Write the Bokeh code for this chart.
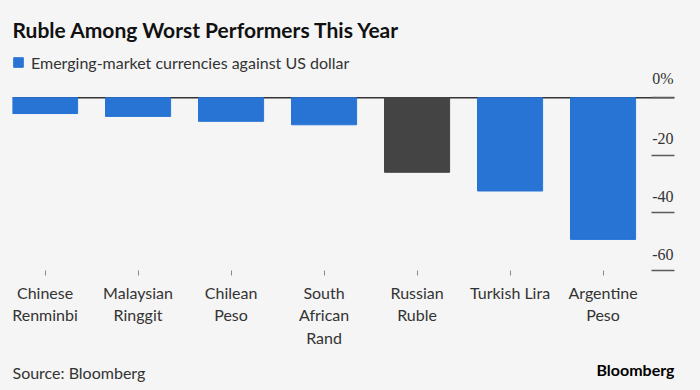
from bokeh.plotting import figure
from bokeh.layouts import column
from bokeh.models import (Range1d, FixedTicker, Span, Legend, LegendItem,
                          Label, LabelSet, ColumnDataSource)
from bokeh.embed import file_html
from bokeh.resources import INLINE

# ---- data ----
currencies = ["Chinese\nRenminbi", "Malaysian\nRinggit", "Chilean\nPeso",
              "South\nAfrican\nRand", "Russian\nRuble", "Turkish Lira",
              "Argentine\nPeso"]
changes = [-5.5, -6.5, -8.2, -9.4, -25.9, -32.4, -49.2]
highlight = [False, False, False, False, True, False, False]
y_ticks = [0, -20, -40, -60]
y_tick_labels = ["0%", "-20", "-40", "-60"]

title_text = "Ruble Among Worst Performers This Year"
legend_text = "Emerging-market currencies against US dollar"
source_text = "Source: Bloomberg"
logo_text = "Bloomberg"

# ---- style ----
BG = "#f5f5f5"
BLUE = "#2874d5"
DARK = "#444444"
FONT = "Lato"

W = 700
MAIN_H, FOOT_H = 350, 40
LEFT, RIGHT = 12, 26
FRAME_W = W - LEFT - RIGHT          # 662
FRAME_H = 273                       # frame runs from the top of the page to the -60 line
PX_PER_UNIT = 2.912
PITCH = 93
BAR_W = 0.7
x_start = -BAR_W / 2
x_end = x_start + FRAME_W / PITCH
y_start = -60
y_end = y_start + FRAME_H / PX_PER_UNIT

xs = list(range(len(currencies)))
colors = [DARK if h else BLUE for h in highlight]
source = ColumnDataSource(dict(x=xs, bottom=changes, color=colors))

p = figure(width=W, height=MAIN_H, output_backend="svg", toolbar_location=None,
           x_range=Range1d(x_start, x_end), y_range=Range1d(y_start, y_end),
           y_axis_location="right", min_border_left=LEFT, min_border_right=RIGHT,
           min_border_top=0, min_border_bottom=MAIN_H - FRAME_H)
p.background_fill_color = BG
p.border_fill_color = BG
p.outline_line_color = None
p.grid.visible = False

p.add_layout(Span(location=0, dimension="width", line_color="#333333",
                  line_width=1.5, level="underlay"))

bars = p.vbar(x="x", top=0, bottom="bottom", width=BAR_W, fill_color="color",
              line_color="color", source=source)

# x axis
xa = p.xaxis[0]
xa.ticker = FixedTicker(ticks=xs)
xa.major_label_overrides = {i: c for i, c in zip(xs, currencies)}
xa.axis_line_color = None
xa.major_tick_out = 5
xa.major_tick_in = 0
xa.major_tick_line_color = "#888888"
xa.minor_tick_line_color = None
xa.major_label_standoff = 7
xa.major_label_text_font = FONT
xa.major_label_text_font_size = "16px"
xa.major_label_text_color = "#333333"

# y axis: short tick lines only; the labels sit above them
ya = p.yaxis[0]
ya.ticker = FixedTicker(ticks=y_ticks)
ya.major_label_overrides = {t: "" for t in y_ticks}
ya.axis_line_color = None
ya.major_tick_in = 23
ya.major_tick_out = 0
ya.major_tick_line_color = "#5a5a5a"
ya.major_tick_line_width = 1.5
ya.minor_tick_line_color = None

lab_src = ColumnDataSource(dict(x=[x_end] * len(y_ticks), y=y_ticks, text=y_tick_labels))
p.add_layout(LabelSet(x="x", y="y", text="text", source=lab_src, x_offset=-1,
                      y_offset=11, text_align="right", text_baseline="bottom",
                      text_font=FONT, text_font_size="16px", text_color="#333333"))

# legend and title (inside the tall frame, above the bars)
legend = Legend(items=[LegendItem(label=legend_text, renderers=[bars], index=0)],
                location=(0, FRAME_H - 78), orientation="horizontal", margin=0,
                padding=0, border_line_color=None, background_fill_alpha=0,
                glyph_width=12, glyph_height=12, label_standoff=7, label_height=26,
                label_text_font=FONT, label_text_font_size="16px",
                label_text_color="#333333")
p.add_layout(legend)

p.add_layout(Label(x=0, y=FRAME_H - 32, x_units="screen", y_units="screen",
                   text=title_text, text_align="left", text_baseline="middle",
                   text_font=FONT, text_font_size="21px", text_font_style="bold",
                   text_color="#111111"))

# footer (its frame is aligned with the main frame: left 12, right 674)
f = figure(width=W, height=FOOT_H, output_backend="svg", toolbar_location=None,
           x_range=Range1d(0, 1), y_range=Range1d(0, 1),
           x_axis_type=None, y_axis_type=None, min_border_left=LEFT,
           min_border_right=RIGHT, min_border_top=0, min_border_bottom=0)
f.background_fill_color = BG
f.border_fill_color = BG
f.outline_line_color = None
f.grid.visible = False
f.add_layout(Label(x=0, y=FOOT_H - 22, x_units="screen", y_units="screen",
                   text=source_text, text_align="left", text_baseline="middle",
                   text_font=FONT, text_font_size="16px", text_color="#333333"))
f.add_layout(Label(x=FRAME_W, y=FOOT_H - 19, x_units="screen", y_units="screen",
                   text=logo_text, text_align="right", text_baseline="middle",
                   text_font=FONT, text_font_size="16px", text_font_style="bold",
                   text_color="#000000"))

layout = column(p, f, spacing=0)
html = file_html(layout, INLINE)
html = html.replace("<head>", "<head><style>body{background:%s;}</style>" % BG, 1)
open("out.html", "w").write(html)
